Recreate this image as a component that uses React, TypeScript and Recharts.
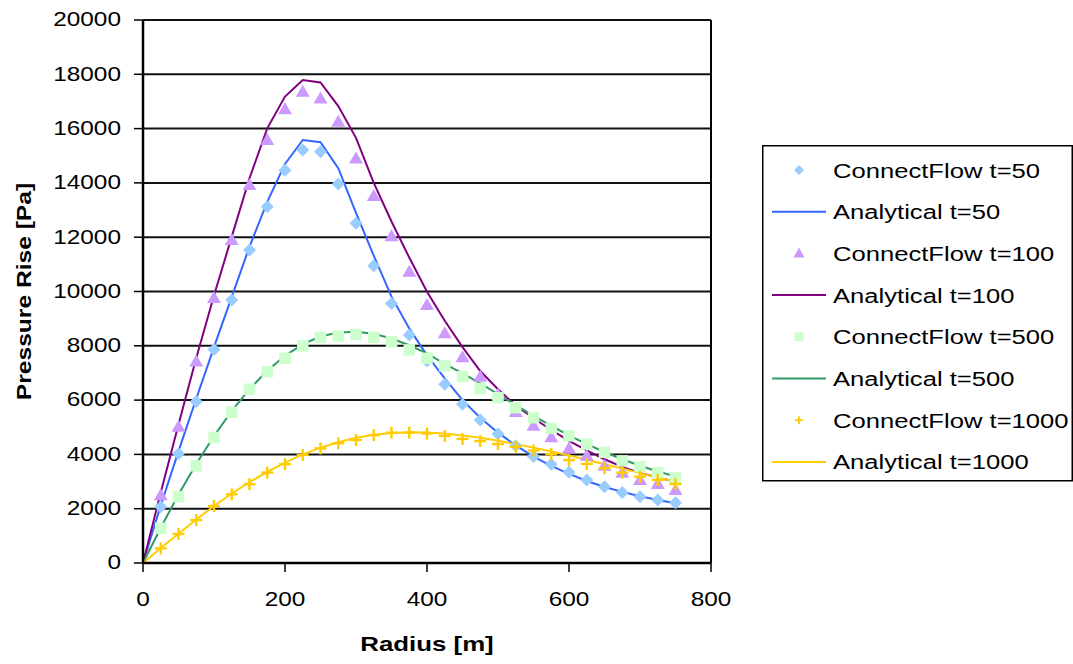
import React from 'react';
import {
  ComposedChart,
  Line,
  Scatter,
  XAxis,
  YAxis,
  CartesianGrid,
  ReferenceLine,
  Legend,
} from 'recharts';

// ---------- data ----------
const radius = [0, 25, 50, 75, 100, 125, 150, 175, 200, 225, 250, 275, 300, 325, 350, 375, 400, 425, 450, 475, 500, 525, 550, 575, 600, 625, 650, 675, 700, 725, 750];
const cfRadius = [25, 50, 75, 100, 125, 150, 175, 200, 225, 250, 275, 300, 325, 350, 375, 400, 425, 450, 475, 500, 525, 550, 575, 600, 625, 650, 675, 700, 725, 750];

const connectFlow50 = [2070, 4020, 5950, 7860, 9690, 11530, 13120, 14470, 15210, 15150, 13960, 12510, 10950, 9560, 8400, 7440, 6580, 5850, 5270, 4750, 4320, 3920, 3640, 3340, 3060, 2810, 2600, 2440, 2320, 2220];
const analytical50 = [0, 2120, 4120, 6050, 7950, 9800, 11650, 13300, 14700, 15580, 15500, 14540, 12900, 11320, 9810, 8640, 7650, 6800, 6000, 5350, 4800, 4330, 3920, 3580, 3280, 3020, 2800, 2620, 2460, 2320, 2200];

const connectFlow100 = [2500, 5020, 7420, 9760, 11900, 13920, 15580, 16710, 17360, 17110, 16250, 14900, 13520, 12040, 10730, 9500, 8460, 7580, 6860, 6200, 5560, 5060, 4630, 4220, 3950, 3580, 3330, 3060, 2910, 2690];
const analytical100 = [0, 2600, 5100, 7550, 9850, 12020, 14170, 16010, 17180, 17790, 17700, 16830, 15660, 14000, 12580, 11250, 9990, 8920, 7950, 7070, 6400, 5800, 5330, 4900, 4500, 4150, 3820, 3540, 3320, 3150, 2990];

const connectFlow500 = [1280, 2440, 3580, 4620, 5550, 6400, 7050, 7540, 8000, 8310, 8360, 8420, 8310, 8150, 7850, 7540, 7260, 6860, 6430, 6090, 5720, 5350, 4960, 4680, 4380, 4080, 3760, 3550, 3330, 3140];
const analytical500 = [0, 1300, 2520, 3650, 4680, 5600, 6400, 7080, 7630, 8060, 8340, 8490, 8520, 8440, 8270, 8020, 7720, 7330, 6980, 6620, 6220, 5820, 5420, 5050, 4700, 4380, 4090, 3820, 3580, 3370, 3190];

const connectFlow1000 = [540, 1070, 1580, 2100, 2530, 2900, 3330, 3640, 3980, 4220, 4410, 4530, 4710, 4800, 4800, 4770, 4680, 4570, 4490, 4380, 4280, 4140, 4010, 3790, 3650, 3490, 3330, 3180, 3060, 2910];
const analytical1000 = [0, 550, 1080, 1600, 2100, 2560, 2980, 3360, 3700, 4000, 4250, 4450, 4610, 4720, 4790, 4820, 4810, 4770, 4700, 4610, 4500, 4380, 4250, 4110, 3960, 3800, 3640, 3480, 3310, 3150, 2990];

const xTicks = [0, 200, 400, 600, 800];
const yTicks = [0, 2000, 4000, 6000, 8000, 10000, 12000, 14000, 16000, 18000, 20000];
const legendLabels = [
  'ConnectFlow t=50',
  'Analytical t=50',
  'ConnectFlow t=100',
  'Analytical t=100',
  'ConnectFlow t=500',
  'Analytical t=500',
  'ConnectFlow t=1000',
  'Analytical t=1000',
];
const xTitle = 'Radius [m]';
const yTitle = 'Pressure Rise [Pa]';

const toPoints = (xs: number[], vs: number[]) => xs.map((r, i) => ({ r, v: vs[i] }));

// ---------- styling ----------
const FONT = '"Liberation Sans", Arial, Helvetica, sans-serif';
const C = {
  cf50: '#99CCFF',
  an50: '#3366FF',
  cf100: '#CC99FF',
  an100: '#800080',
  cf500: '#CCFFCC',
  an500: '#339966',
  cf1000: '#FFCC00',
  an1000: '#FFCC00',
};

type STextProps = {
  x: number;
  y: number;
  size: number;
  anchor?: 'start' | 'middle' | 'end';
  bold?: boolean;
  rotate?: number;
  sx?: number;
  children: React.ReactNode;
};
const SText = ({ x, y, size, anchor = 'start', bold = false, rotate = 0, sx = 1.2, children }: STextProps) => (
  <g transform={`translate(${x},${y}) rotate(${rotate})`}>
    <text
      transform={`scale(${sx},1)`}
      x={0}
      y={0}
      dy="0.36em"
      textAnchor={anchor}
      fontFamily={FONT}
      fontSize={size}
      fontWeight={bold ? 700 : 400}
      fill="#000"
    >
      {children}
    </text>
  </g>
);

const YTick = (props: any) => (
  <SText x={props.x} y={props.y - 1} size={20.5} anchor="end" sx={1.19}>
    {props.payload.value}
  </SText>
);
const XTick = (props: any) => (
  <SText x={props.x} y={props.y + 23} size={20.5} anchor="middle" sx={1.19}>
    {props.payload.value}
  </SText>
);

// marker shapes
const diamond = (cx: number, cy: number, s: number, fill: string) => (
  <polygon points={`${cx},${cy - s} ${cx + s},${cy} ${cx},${cy + s} ${cx - s},${cy}`} fill={fill} />
);
const triangle = (cx: number, cy: number, w: number, h: number, fill: string) => (
  <polygon points={`${cx},${cy - h * 0.58} ${cx + w / 2},${cy + h * 0.42} ${cx - w / 2},${cy + h * 0.42}`} fill={fill} />
);
const square = (cx: number, cy: number, s: number, fill: string) => (
  <rect x={cx - s / 2} y={cy - s / 2} width={s} height={s} fill={fill} />
);
const cross = (cx: number, cy: number, s: number, stroke: string, w: number) => (
  <g stroke={stroke} strokeWidth={w}>
    <line x1={cx - s / 2} y1={cy} x2={cx + s / 2} y2={cy} />
    <line x1={cx} y1={cy - s / 2} x2={cx} y2={cy + s / 2} />
  </g>
);

const DiamondShape = (p: any) => diamond(p.cx, p.cy, 6.5, C.cf50);
const TriangleShape = (p: any) => triangle(p.cx, p.cy, 14, 12, C.cf100);
const SquareShape = (p: any) => square(p.cx, p.cy, 11.5, C.cf500);
const CrossShape = (p: any) => cross(p.cx, p.cy, 12, C.cf1000, 2.4);

const LegendBox = () => {
  const kinds = ['diamond', 'line', 'triangle', 'line', 'square', 'line', 'cross', 'line'];
  const colors = [C.cf50, C.an50, C.cf100, C.an100, C.cf500, C.an500, C.cf1000, C.an1000];
  return (
    <svg width={311} height={337} style={{ display: 'block' }}>
      <rect x={0.75} y={0.75} width={309.5} height={335} fill="#fff" stroke="#000" strokeWidth={1.5} />
      {legendLabels.map((label, i) => {
        const cy = 25 + i * 41.7;
        const k = kinds[i];
        let sym: React.ReactNode = null;
        if (k === 'diamond') sym = diamond(37, cy, 5, colors[i]);
        else if (k === 'triangle') sym = triangle(37, cy, 11, 10, colors[i]);
        else if (k === 'square') sym = square(37, cy, 9, colors[i]);
        else if (k === 'cross') sym = cross(37, cy, 8, colors[i], 1.8);
        else sym = <line x1={10} y1={cy} x2={64} y2={cy} stroke={colors[i]} strokeWidth={2} />;
        return (
          <g key={label}>
            {sym}
            <SText x={71} y={cy} size={21} sx={1.22}>
              {label}
            </SText>
          </g>
        );
      })}
    </svg>
  );
};

export default function App() {
  return (
    <div style={{ position: 'absolute', left: 0, top: 0, width: 1073, height: 664, background: '#fff' }}>
      <ComposedChart
        width={1073}
        height={664}
        margin={{ top: 20, right: 362, bottom: 41, left: 43 }}
      >
        <CartesianGrid horizontal vertical={false} stroke="#111" strokeWidth={2} />
        <XAxis
          type="number"
          dataKey="r"
          domain={[0, 800]}
          ticks={xTicks}
          interval={0}
          allowDataOverflow
          height={60}
          tickSize={9}
          tickMargin={4}
          axisLine={{ stroke: '#000', strokeWidth: 2.5 }}
          tickLine={{ stroke: '#000', strokeWidth: 1.5 }}
          tick={<XTick />}
          label={{
            content: () => (
              <SText x={427} y={643} size={21} bold anchor="middle" sx={1.23}>
                {xTitle}
              </SText>
            ),
          }}
        />
        <YAxis
          type="number"
          dataKey="v"
          domain={[0, 20000]}
          ticks={yTicks}
          interval={0}
          allowDataOverflow
          width={100}
          tickSize={9}
          tickMargin={13}
          axisLine={{ stroke: '#000', strokeWidth: 2.5 }}
          tickLine={{ stroke: '#000', strokeWidth: 1.5 }}
          tick={<YTick />}
          label={{
            content: () => (
              <SText x={24} y={291.5} size={20.5} bold anchor="middle" rotate={-90} sx={1.2}>
                {yTitle}
              </SText>
            ),
          }}
        />
        <ReferenceLine x={800} stroke="#000" strokeWidth={2} />

        <Scatter data={toPoints(cfRadius, connectFlow50)} dataKey="v" shape={DiamondShape} isAnimationActive={false} />
        <Line data={toPoints(radius, analytical50)} dataKey="v" type="linear" stroke={C.an50} strokeWidth={2} dot={false} activeDot={false} isAnimationActive={false} />
        <Scatter data={toPoints(cfRadius, connectFlow100)} dataKey="v" shape={TriangleShape} isAnimationActive={false} />
        <Line data={toPoints(radius, analytical100)} dataKey="v" type="linear" stroke={C.an100} strokeWidth={2} dot={false} activeDot={false} isAnimationActive={false} />
        <Scatter data={toPoints(cfRadius, connectFlow500)} dataKey="v" shape={SquareShape} isAnimationActive={false} />
        <Line data={toPoints(radius, analytical500)} dataKey="v" type="linear" stroke={C.an500} strokeWidth={2} dot={false} activeDot={false} isAnimationActive={false} />
        <Scatter data={toPoints(cfRadius, connectFlow1000)} dataKey="v" shape={CrossShape} isAnimationActive={false} />
        <Line data={toPoints(radius, analytical1000)} dataKey="v" type="linear" stroke={C.an1000} strokeWidth={2} dot={false} activeDot={false} isAnimationActive={false} />

        <Legend
          layout="vertical"
          align="center"
          verticalAlign="middle"
          content={() => <LegendBox />}
          wrapperStyle={{ left: 762, top: 145, width: 311, height: 337, right: 'auto', bottom: 'auto' }}
        />
      </ComposedChart>
    </div>
  );
}
